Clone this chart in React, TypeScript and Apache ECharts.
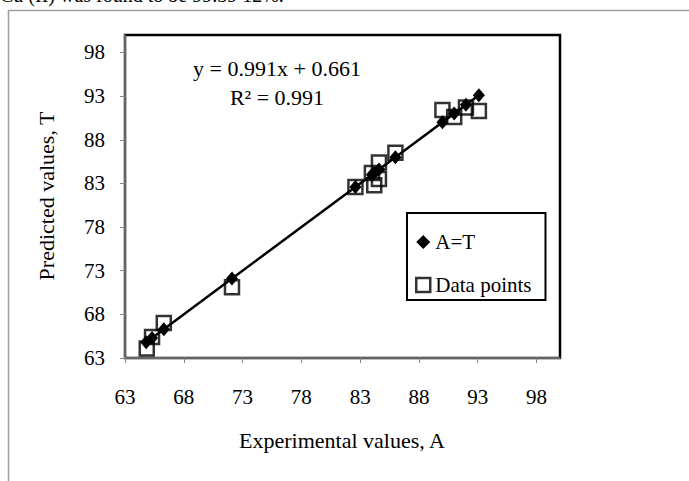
import React, { useEffect, useRef } from "react";
import * as echarts from "echarts";

const tickValues = [63, 68, 73, 78, 83, 88, 93, 98];
// Experimental values A (x) and predicted values T (y) for the data points
const expValues = [64.85, 65.3, 66.3, 72.1, 82.6, 84.0, 84.2, 84.6, 84.6, 86.0, 90.0, 91.0, 92.0, 93.1];
const predValues = [64.1, 65.4, 67.0, 71.1, 82.6, 84.2, 82.8, 85.4, 83.5, 86.5, 91.4, 90.6, 91.7, 91.3];
// A = T reference points
const atValues = [64.8, 65.3, 66.3, 72.1, 82.6, 84.0, 84.2, 84.6, 86.0, 90.0, 91.0, 92.0, 93.1];
const seriesNames = ["A=T", "Data points"];
const equationLines = ["y = 0.991x + 0.661", "R² = 0.991"];
const xTitle = "Experimental values, A";
const yTitle = "Predicted values, T";
const topText = "Cu (II) was found to be 99.39 12%.";

const FONT = "'Liberation Serif', 'Times New Roman', serif";

export default function App() {
  const ref = useRef<HTMLDivElement>(null);
  useEffect(() => {
    if (!ref.current) return;
    const chart = echarts.init(ref.current, null, { renderer: "svg" });
    const axisCommon = {
      type: "value",
      min: 63,
      max: 100,
      interval: 5,
      splitLine: { show: false },
      axisLine: { show: true, lineStyle: { color: "#868686", width: 1.5 } },
      axisTick: { show: true, inside: false, length: 5, customValues: tickValues, lineStyle: { color: "#868686", width: 1 } },
    };
    chart.setOption({
      animation: false,
      backgroundColor: "#fff",
      grid: {
        left: 125,
        top: 35,
        right: 129,
        bottom: 123,
        show: true,
        borderColor: "#000",
        borderWidth: 2.5,
        backgroundColor: "transparent",
      },
      xAxis: {
        ...axisCommon,
        axisLabel: {
          customValues: tickValues,
          formatter: (v: number) => (v === 100 ? "" : String(v)),
          color: "#000",
          fontFamily: FONT,
          fontSize: 21,
          margin: 28,
        },
      },
      yAxis: {
        ...axisCommon,
        axisLabel: {
          customValues: tickValues,
          formatter: (v: number) => (v === 100 ? "" : String(v)),
          color: "#000",
          fontFamily: FONT,
          fontSize: 21,
          margin: 20,
        },
      },
      legend: {
        orient: "vertical",
        left: 407,
        top: 213,
        width: 125,
        padding: [18, 14, 4, 8],
        borderColor: "#000",
        borderWidth: 2,
        backgroundColor: "#fff",
        itemWidth: 14,
        itemHeight: 14,
        itemGap: 21,
        textStyle: { color: "#000", fontFamily: FONT, fontSize: 21, lineHeight: 22 },
        data: [
          { name: seriesNames[0], icon: "diamond", itemStyle: { color: "#000" } },
          {
            name: seriesNames[1],
            icon: "rect",
            itemStyle: { color: "#fff", borderColor: "#000", borderWidth: 2.5 },
          },
        ],
      },
      graphic: [
        {
          type: "line",
          shape: { x1: 8.5, y1: 10, x2: 8.5, y2: 481 },
          style: { stroke: "#a0a0a0", lineWidth: 1.5 },
        },
        {
          type: "line",
          shape: { x1: 8, y1: 10.5, x2: 689, y2: 10.5 },
          style: { stroke: "#a0a0a0", lineWidth: 1.5 },
        },
        {
          type: "text",
          x: 0,
          y: 5,
          style: { text: topText, fill: "#000", font: `20px ${FONT}`, textAlign: "left", textVerticalAlign: "bottom" },
        },
        {
          type: "text",
          x: 277,
          y: 68,
          style: { text: equationLines[0], fill: "#000", font: `22px ${FONT}`, textAlign: "center", textVerticalAlign: "middle" },
        },
        {
          type: "text",
          x: 277,
          y: 97,
          style: { text: equationLines[1], fill: "#000", font: `22px ${FONT}`, textAlign: "center", textVerticalAlign: "middle" },
        },
        {
          type: "text",
          x: 342,
          y: 440,
          style: { text: xTitle, fill: "#000", font: `22px ${FONT}`, textAlign: "center", textVerticalAlign: "middle" },
        },
        {
          type: "text",
          x: 46,
          y: 196,
          rotation: Math.PI / 2,
          style: { text: yTitle, fill: "#000", font: `22px ${FONT}`, textAlign: "center", textVerticalAlign: "middle" },
        },
      ],
      series: [
        {
          name: seriesNames[1],
          type: "scatter",
          symbol: "rect",
          symbolSize: 14,
          itemStyle: { color: "rgba(0,0,0,0)", borderColor: "#000", borderWidth: 2.5 },
          data: expValues.map((x, i) => [x, predValues[i]]),
          z: 2,
        },
        {
          name: seriesNames[0],
          type: "line",
          symbol: "diamond",
          symbolSize: [12, 14],
          showSymbol: true,
          lineStyle: { color: "#000", width: 2.5 },
          itemStyle: { color: "#000" },
          data: atValues.map((v) => [v, v]),
          z: 3,
        },
      ],
    });
    return () => chart.dispose();
  }, []);
  return (
    <div
      ref={ref}
      style={{ position: "fixed", left: 0, top: 0, width: 689, height: 481, background: "#fff" }}
    />
  );
}
